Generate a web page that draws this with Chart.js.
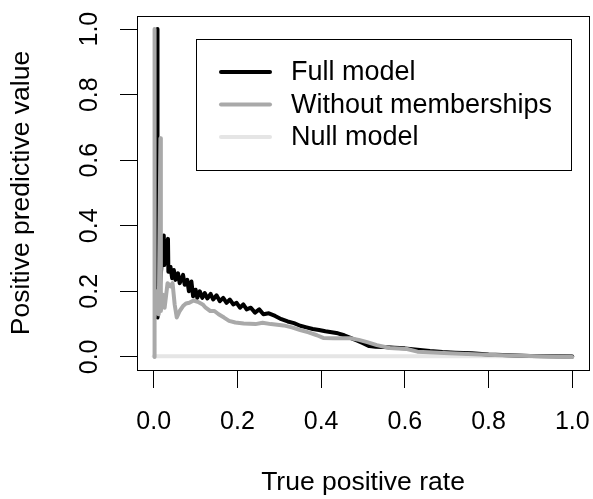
<!DOCTYPE html>
<html><head><meta charset="utf-8">
<script src="https://cdn.jsdelivr.net/npm/chart.js@4/dist/chart.umd.min.js"></script>
<style>html,body{margin:0;padding:0;background:#fff;}canvas{display:block;}</style>
</head><body>
<canvas id="c" width="593" height="499"></canvas>
<script>
// ---- data ----
const seriesLabels = ['Full model', 'Without memberships', 'Null model'];

const fullTPR = [
  0.009, 0.009, 0.024, 0.025, 0.034, 0.035, 0.040, 0.044, 0.048, 0.052,
  0.058, 0.062, 0.070, 0.074, 0.080, 0.084, 0.090, 0.094, 0.100, 0.104,
  0.110, 0.116, 0.122, 0.128, 0.136, 0.142, 0.150, 0.158, 0.166, 0.174,
  0.182, 0.190, 0.198, 0.206, 0.214, 0.222, 0.232, 0.242, 0.252, 0.262,
  0.275, 0.290, 0.305, 0.320, 0.335, 0.350, 0.365, 0.380, 0.395, 0.410,
  0.425, 0.440, 0.455, 0.470, 0.485, 0.500, 0.515, 0.530, 0.550, 0.575,
  0.600, 0.630, 0.660, 0.690, 0.720, 0.760, 0.800, 0.850, 0.900, 0.950,
  1.000
];
const fullPPV = [
  1.000, 0.120, 0.370, 0.280, 0.360, 0.260, 0.275, 0.240, 0.265, 0.235,
  0.255, 0.225, 0.250, 0.220, 0.235, 0.200, 0.230, 0.185, 0.205, 0.180,
  0.200, 0.180, 0.195, 0.178, 0.192, 0.175, 0.188, 0.170, 0.180, 0.165,
  0.175, 0.160, 0.165, 0.150, 0.160, 0.145, 0.150, 0.135, 0.145, 0.130,
  0.133, 0.125, 0.115, 0.108, 0.103, 0.095, 0.090, 0.085, 0.082, 0.078,
  0.075, 0.072, 0.066, 0.058, 0.050, 0.042, 0.033, 0.031, 0.030, 0.028,
  0.026, 0.022, 0.018, 0.015, 0.013, 0.011, 0.007, 0.005, 0.003, 0.002,
  0.001
];

const noMemTPR = [
  0.002, 0.002, 0.002, 0.008, 0.012, 0.016, 0.017, 0.022, 0.026, 0.033,
  0.040, 0.045, 0.050, 0.055, 0.062, 0.070, 0.077, 0.085, 0.095, 0.105,
  0.117, 0.124, 0.135, 0.145, 0.155, 0.168, 0.180, 0.195, 0.215, 0.243,
  0.260, 0.280, 0.310, 0.330, 0.350, 0.370, 0.390, 0.405, 0.430, 0.470,
  0.490, 0.510, 0.533, 0.564, 0.605, 0.630, 0.707, 0.780, 0.850, 0.920,
  1.000
];
const noMemPPV = [
  0.000, 1.000, 0.120, 0.200, 0.130, 0.667, 0.140, 0.190, 0.150, 0.225,
  0.215, 0.225, 0.160, 0.120, 0.140, 0.155, 0.163, 0.165, 0.172, 0.168,
  0.160, 0.150, 0.140, 0.140, 0.130, 0.120, 0.110, 0.105, 0.102, 0.100,
  0.104, 0.100, 0.096, 0.090, 0.082, 0.075, 0.066, 0.058, 0.057, 0.057,
  0.052, 0.045, 0.036, 0.027, 0.024, 0.016, 0.011, 0.007, 0.004, 0.002,
  0.000
];

const nullTPR = [0.0, 1.0];
const nullPPV = [0.002, 0.002];

const xTicks = [0, 0.2, 0.4, 0.6, 0.8, 1.0];
const xTickLabels = ['0.0', '0.2', '0.4', '0.6', '0.8', '1.0'];
const yTicks = [0, 0.2, 0.4, 0.6, 0.8, 1.0];
const yTickLabels = ['0.0', '0.2', '0.4', '0.6', '0.8', '1.0'];

// ---- styling ----
const FONT = "'Liberation Sans', Arial, Helvetica, sans-serif";
const TICK_FS = 25, TITLE_FS = 26.5, LEGEND_FS = 27;

function pts(xs, ys) { return xs.map((x, i) => ({x: x, y: ys[i]})); }

const framePlugin = {
  id: 'rframe',
  afterDraw(chart) {
    const c = chart.ctx, a = chart.chartArea;
    c.save();
    c.strokeStyle = '#000';
    c.lineWidth = 1;
    c.strokeRect(Math.round(a.left) + 0.5, Math.round(a.top) + 0.5,
                 Math.round(a.right - a.left), Math.round(a.bottom - a.top));
    c.restore();
  }
};

const legendPlugin = {
  id: 'rlegend',
  afterDraw(chart) {
    const c = chart.ctx;
    c.save();
    const bx = 196, by = 39, bw = 375, bh = 131;
    c.fillStyle = '#fff';
    c.fillRect(bx, by, bw, bh);
    c.strokeStyle = '#000';
    c.lineWidth = 1;
    c.strokeRect(bx + 0.5, by + 0.5, bw, bh);
    chart.data.datasets.forEach((ds, i) => {
      const y = 72 + i * 32.5;
      c.strokeStyle = ds.borderColor;
      c.lineWidth = ds.borderWidth;
      c.lineCap = 'round';
      c.beginPath();
      c.moveTo(221, y);
      c.lineTo(270, y);
      c.stroke();
      c.fillStyle = '#000';
      c.font = LEGEND_FS + 'px ' + FONT;
      c.textAlign = 'left';
      c.textBaseline = 'middle';
      c.fillText(ds.label, 291, y + 1);
    });
    c.restore();
  }
};

const common = {
  showLine: true, pointRadius: 0, pointHoverRadius: 0, tension: 0,
  borderCapStyle: 'round', borderJoinStyle: 'round', fill: false
};

new Chart(document.getElementById('c').getContext('2d'), {
  type: 'scatter',
  data: {
    datasets: [
      Object.assign({label: seriesLabels[0], data: pts(fullTPR, fullPPV),
        borderColor: '#000000', backgroundColor: '#000000', borderWidth: 4, order: 1}, common),
      Object.assign({label: seriesLabels[1], data: pts(noMemTPR, noMemPPV),
        borderColor: '#A9A9A9', backgroundColor: '#A9A9A9', borderWidth: 4, order: 0}, common),
      Object.assign({label: seriesLabels[2], data: pts(nullTPR, nullPPV),
        borderColor: '#E5E5E5', backgroundColor: '#E5E5E5', borderWidth: 4, order: 2}, common)
    ]
  },
  options: {
    responsive: false,
    animation: false,
    devicePixelRatio: 1,
    layout: {padding: {left: 0, top: 16, right: 4, bottom: 0}},
    plugins: {legend: {display: false}, tooltip: {enabled: false}},
    scales: {
      x: {
        type: 'linear', min: -0.04, max: 1.04,
        afterBuildTicks: s => { s.ticks = xTicks.map(v => ({value: v})); },
        afterFit: s => { s.height = 129; s.paddingLeft = 0; s.paddingRight = 0; },
        grid: {drawOnChartArea: false, drawTicks: true, tickLength: 18, color: '#000', lineWidth: 1},
        border: {display: false},
        ticks: {autoSkip: false, minRotation: 0, maxRotation: 0, padding: 19, color: '#000',
                font: {family: FONT, size: TICK_FS}, callback: (v, i) => xTickLabels[i]},
        title: {display: true, text: 'True positive rate', color: '#000',
                font: {family: FONT, size: TITLE_FS}, padding: {top: 0, bottom: 0}}
      },
      y: {
        type: 'linear', min: -0.04, max: 1.04,
        afterBuildTicks: s => { s.ticks = yTicks.map(v => ({value: v})); },
        afterFit: s => { s.width = 137; s.paddingTop = 0; s.paddingBottom = 0; },
        grid: {drawOnChartArea: false, drawTicks: true, tickLength: 17, color: '#000', lineWidth: 1},
        border: {display: false},
        ticks: {autoSkip: false, minRotation: 90, maxRotation: 90, crossAlign: 'center', padding: 13,
                color: '#000', font: {family: FONT, size: TICK_FS}, callback: (v, i) => yTickLabels[i]},
        title: {display: true, text: 'Positive predictive value', color: '#000',
                font: {family: FONT, size: TITLE_FS}, padding: {top: 6, bottom: 0}}
      }
    }
  },
  plugins: [framePlugin, legendPlugin]
});
</script>
</body></html>
